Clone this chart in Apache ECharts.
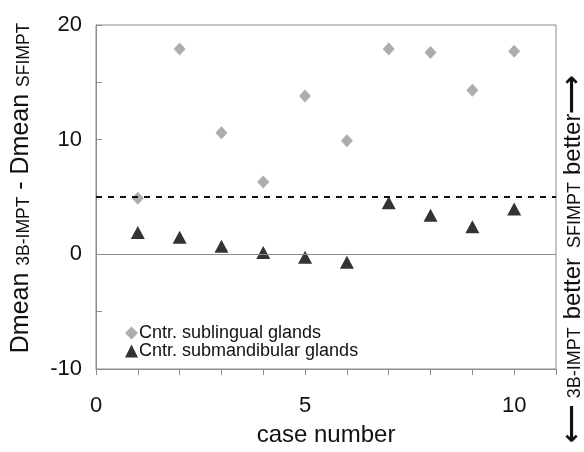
<!DOCTYPE html>
<html>
<head>
<meta charset="utf-8">
<script src="https://cdn.jsdelivr.net/npm/echarts@6/dist/echarts.min.js"></script>
<style>
  html, body { margin: 0; padding: 0; background: #fff; }
  #chart { width: 584px; height: 452px; }
</style>
</head>
<body>
<div id="chart"></div>
<script>
  const caseNumbers = [1, 2, 3, 4, 5, 6, 7, 8, 9, 10]
  const sublingual = [4.9, 17.9, 10.6, 6.3, 13.8, 9.9, 17.9, 17.6, 14.3, 17.7]
  const submandibular = [1.9, 1.5, 0.7, 0.15, -0.25, -0.7, 4.5, 3.4, 2.4, 3.95]
  const xLabels = [0, 5, 10]
  const yLabels = [-10, 0, 10, 20]
  const threshold = 5

  const font = 'Liberation Sans, Arial, sans-serif'
  const chart = echarts.init(document.getElementById('chart'))

  const pairs = (ys) => caseNumbers.map((x, i) => [x, ys[i]])

  const option = {
    animation: false,
    textStyle: { fontFamily: font },
    grid: {
      left: 96, right: 28, top: 25, bottom: 78,
      show: true, borderColor: '#8c8c8c', borderWidth: 1
    },
    legend: {
      orient: 'vertical',
      left: 125,
      top: 324,
      padding: 0,
      itemGap: 0,
      itemWidth: 13,
      itemHeight: 13,
      textStyle: { fontSize: 18, lineHeight: 18, color: '#111', fontFamily: font, padding: [0, 0, 0, -4] },
      data: [
        { name: 'Cntr. sublingual glands', icon: 'diamond' },
        { name: 'Cntr. submandibular glands', icon: 'triangle' }
      ]
    },
    xAxis: {
      type: 'value',
      min: 0, max: 11, interval: 1,
      splitLine: { show: false },
      axisLine: { onZero: false, lineStyle: { color: '#8c8c8c' } },
      axisTick: { inside: false, length: 6, lineStyle: { color: '#8c8c8c' } },
      axisLabel: {
        fontSize: 22, color: '#111', margin: 26, fontFamily: font,
        formatter: (v) => xLabels.includes(v) ? String(v) : ''
      },
      name: 'case number',
      nameLocation: 'middle',
      nameGap: 54,
      nameTextStyle: { fontSize: 24, color: '#111', fontFamily: font }
    },
    yAxis: {
      type: 'value',
      min: -10, max: 20, interval: 5,
      splitLine: { show: false },
      axisLine: { lineStyle: { color: '#8c8c8c' } },
      axisTick: { inside: true, length: 6, lineStyle: { color: '#8c8c8c' } },
      axisLabel: {
        fontSize: 22, color: '#111', margin: 14, fontFamily: font,
        formatter: (v) => yLabels.includes(v) ? String(v) : ''
      }
    },
    series: [
      {
        name: 'Cntr. sublingual glands',
        type: 'scatter',
        symbol: 'diamond',
        symbolSize: [12, 13],
        itemStyle: { color: '#999999' },
        data: pairs(sublingual),
        markLine: {
          silent: true,
          symbol: 'none',
          label: { show: false },
          data: [
            { yAxis: 0, lineStyle: { color: '#8c8c8c', type: 'solid', width: 1 } },
            { yAxis: threshold, lineStyle: { color: '#111', type: [6, 6], width: 2 } }
          ]
        }
      },
      {
        name: 'Cntr. submandibular glands',
        type: 'scatter',
        symbol: 'triangle',
        symbolSize: [14, 13],
        itemStyle: { color: '#000' },
        data: pairs(submandibular)
      }
    ],
    graphic: [
      {
        type: 'text',
        x: 21, y: 188,
        rotation: Math.PI / 2,
        style: {
          text: '{a|Dmean }{b|3B-IMPT}{a| - Dmean }{b|SFIMPT}',
          align: 'center',
          verticalAlign: 'middle',
          fill: '#111',
          rich: {
            a: { fontSize: 25, fontFamily: font, fill: '#111' },
            b: { fontSize: 17.5, fontFamily: font, fill: '#111', padding: [6, 0, 0, 0] }
          }
        }
      },
      {
        type: 'text',
        x: 573, y: 259,
        rotation: Math.PI / 2,
        style: {
          text: '{c|\u27f5}{b|3B-IMPT}{a|better}{d|SFIMPT}{a|better}{c|\u27f6}',
          align: 'center',
          verticalAlign: 'middle',
          fill: '#111',
          rich: {
            a: { fontSize: 24, fontFamily: font, fill: '#111' },
            b: { fontSize: 18, fontFamily: font, fill: '#111', padding: [4, 8, 0, 6] },
            d: { fontSize: 18, fontFamily: font, fill: '#111', padding: [4, 7, 0, 10] },
            c: { fontSize: 27, fontFamily: 'DejaVu Sans', fontWeight: 'bold', fill: '#111' }
          }
        }
      }
    ]
  }

  chart.setOption(option)
</script>
</body>
</html>
